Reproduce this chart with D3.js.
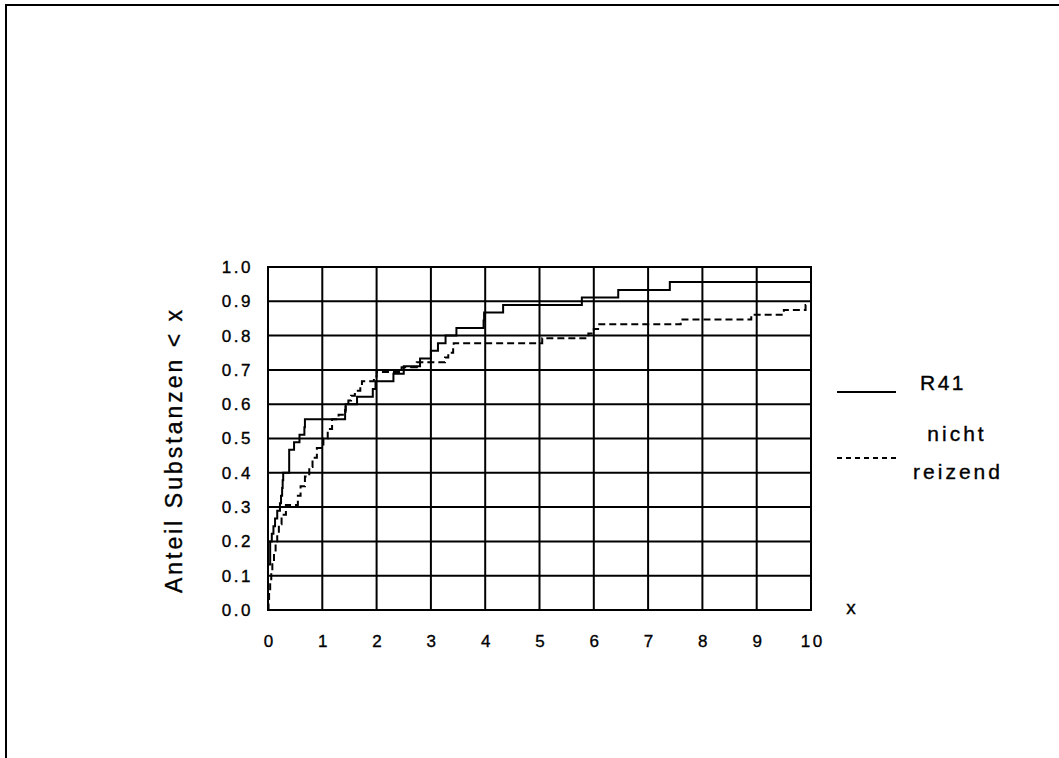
<!DOCTYPE html>
<html>
<head>
<meta charset="utf-8">
<script src="https://cdn.jsdelivr.net/npm/d3@7"></script>
<style>
  body { margin: 0; background: #fff; }
  svg text { font-family: "Liberation Sans", Arial, sans-serif; fill: #000; stroke: #000; stroke-width: 0.35px; }
</style>
</head>
<body>
<div id="chart"></div>
<script>
// step positions (x) and cumulative share after each step
let r41X = [0, 0, 0.04, 0.07, 0.10, 0.13, 0.17, 0.22, 0.24, 0.26, 0.27, 0.28, 0.39, 0.48, 0.58, 0.67, 0.68,
  1.42, 1.43, 1.64, 1.93, 1.98, 2.31, 2.50, 2.80, 3.00, 3.13, 3.27, 3.47, 3.97, 3.98, 4.33, 5.78, 6.45, 7.40, 10];
let r41Y = [0, 0.133, 0.200, 0.222, 0.244, 0.267, 0.289, 0.311, 0.333, 0.356, 0.378, 0.400, 0.467, 0.489, 0.511, 0.533, 0.556,
  0.578, 0.600, 0.622, 0.644, 0.667, 0.689, 0.711, 0.733, 0.756, 0.778, 0.800, 0.822, 0.844, 0.867, 0.889, 0.911, 0.933, 0.956, 0.956];

let nrX = [0, 0.01, 0.02, 0.04, 0.06, 0.08, 0.11, 0.14, 0.17, 0.20, 0.25, 0.33, 0.55, 0.60, 0.68, 0.76, 0.82, 0.90,
  1.02, 1.10, 1.18, 1.30, 1.42, 1.43, 1.48, 1.53, 1.60, 1.70, 1.73, 1.95, 2.00, 2.46, 2.74, 3.26, 3.32, 3.41, 3.42,
  5.05, 5.90, 6.00, 6.10, 7.60, 8.90, 9.50, 9.90, 10];
let nrY = [0, 0.028, 0.056, 0.083, 0.111, 0.139, 0.167, 0.194, 0.222, 0.250, 0.278, 0.306, 0.333, 0.361, 0.389, 0.417, 0.444, 0.472,
  0.500, 0.528, 0.556, 0.569, 0.583, 0.597, 0.611, 0.625, 0.639, 0.653, 0.667, 0.681, 0.694, 0.708, 0.722, 0.736, 0.750, 0.764, 0.778,
  0.792, 0.806, 0.819, 0.833, 0.847, 0.861, 0.875, 0.889, 0.889];

let xTicks = [0, 1, 2, 3, 4, 5, 6, 7, 8, 9, 10];
let yTicks = [0, 0.1, 0.2, 0.3, 0.4, 0.5, 0.6, 0.7, 0.8, 0.9, 1.0];
let legendNames = ["R41", "nicht reizend"];

let width = 1059;
let height = 758;
let plotLeft = 268, plotRight = 811, plotTop = 267, plotBottom = 610;

let svg = d3.select("#chart").append("svg")
  .attr("width", width)
  .attr("height", height);

// outer frame (only top and left edge visible)
svg.append("path")
  .attr("d", "M6," + height + "V5H" + width)
  .attr("fill", "none")
  .attr("stroke", "#000")
  .attr("stroke-width", 2);

let xScale = d3.scaleLinear().domain([0, 10]).range([plotLeft, plotRight]);
let yScale = d3.scaleLinear().domain([0, 1]).range([plotBottom, plotTop]);

// grid
svg.append("g")
  .selectAll("line")
  .data(xTicks)
  .enter()
  .append("line")
  .attr("x1", d => xScale(d)).attr("x2", d => xScale(d))
  .attr("y1", plotTop - 1).attr("y2", plotBottom + 1)
  .attr("stroke", "#000").attr("stroke-width", 2);
svg.append("g")
  .selectAll("line")
  .data(yTicks)
  .enter()
  .append("line")
  .attr("x1", plotLeft - 1).attr("x2", plotRight + 1)
  .attr("y1", d => yScale(d)).attr("y2", d => yScale(d))
  .attr("stroke", "#000").attr("stroke-width", 2);

// tick labels through the axes
let xAxis = d3.axisBottom(xScale).tickValues(xTicks).tickSize(0).tickPadding(25).tickFormat(d3.format("d"));
let yAxis = d3.axisLeft(yScale).tickValues(yTicks).tickSize(0).tickPadding(15).tickFormat(d3.format(".1f"));

let gx = svg.append("g").attr("transform", "translate(0," + plotBottom + ")").call(xAxis);
let gy = svg.append("g").attr("transform", "translate(" + plotLeft + ",0)").call(yAxis);
gx.select(".domain").remove();
gy.select(".domain").remove();
svg.selectAll(".tick text")
  .attr("font-family", "Liberation Sans, Arial, sans-serif")
  .attr("font-size", 17)
  .style("letter-spacing", "2.5px");
gx.selectAll(".tick text").attr("dx", 1.2);

// step lines
let line = d3.line()
  .x(d => xScale(d[0]))
  .y(d => yScale(d[1]))
  .curve(d3.curveStepAfter);

svg.append("path")
  .datum(nrX.map((v, i) => [v, nrY[i]]))
  .attr("d", line)
  .attr("fill", "none")
  .attr("stroke", "#000")
  .attr("stroke-width", 2)
  .attr("stroke-dasharray", "7,4");

svg.append("path")
  .datum(r41X.map((v, i) => [v, r41Y[i]]))
  .attr("d", line)
  .attr("fill", "none")
  .attr("stroke", "#000")
  .attr("stroke-width", 2);

// axis titles
svg.append("text")
  .attr("transform", "translate(182,450)rotate(-90)")
  .attr("text-anchor", "middle")
  .attr("font-size", 23)
  .style("letter-spacing", "3px")
  .text("Anteil Substanzen < x");

svg.append("text")
  .attr("x", 851)
  .attr("y", 614)
  .attr("text-anchor", "middle")
  .attr("font-size", 19)
  .text("x");

// legend
svg.append("line")
  .attr("x1", 837).attr("x2", 896)
  .attr("y1", 392).attr("y2", 392)
  .attr("stroke", "#000").attr("stroke-width", 2);
svg.append("line")
  .attr("x1", 837).attr("x2", 896)
  .attr("y1", 458).attr("y2", 458)
  .attr("stroke", "#000").attr("stroke-width", 2)
  .attr("stroke-dasharray", "5,4");

let words = legendNames[1].split(" ");
svg.append("text")
  .attr("x", 943).attr("y", 390)
  .attr("text-anchor", "middle")
  .attr("font-size", 21)
  .style("letter-spacing", "2.5px")
  .text(legendNames[0]);
svg.append("text")
  .attr("x", 957).attr("y", 441)
  .attr("text-anchor", "middle")
  .attr("font-size", 21)
  .style("letter-spacing", "3px")
  .text(words[0]);
svg.append("text")
  .attr("x", 958).attr("y", 479)
  .attr("text-anchor", "middle")
  .attr("font-size", 21)
  .style("letter-spacing", "3px")
  .text(words[1]);
</script>
</body>
</html>
